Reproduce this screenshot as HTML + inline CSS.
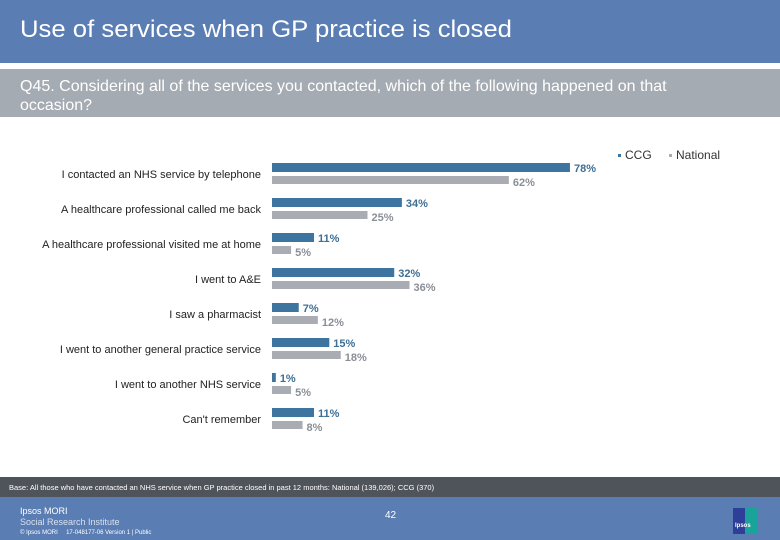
<!DOCTYPE html>
<html><head><meta charset="utf-8"><style>
body{margin:0;width:780px;height:540px;position:relative;background:#fff;font-family:"Liberation Sans",sans-serif;overflow:hidden}
.abs{position:absolute}
</style></head><body>
<div class="abs" style="left:0;top:0;width:780px;height:63px;background:#5a7db4"></div>
<div class="abs" style="left:20px;top:16px;font-size:24px;color:#fff;transform:scaleX(1.07);transform-origin:left;white-space:nowrap">Use of services when GP practice is closed</div>
<div class="abs" style="left:0;top:69px;width:780px;height:48px;background:#a5abb3"></div>
<div class="abs" style="left:20px;top:77px;width:705px;font-size:16px;line-height:19px;color:#fff">Q45. Considering all of the services you contacted, which of the following happened on that occasion?</div>
<div class="abs" style="left:618px;top:148px;font-size:12px;color:#333"><span style="display:inline-block;width:3px;height:3px;background:#3e75a0;vertical-align:middle;margin-right:4px"></span>CCG</div>
<div class="abs" style="left:669px;top:148px;font-size:12px;color:#333"><span style="display:inline-block;width:3px;height:3px;background:#a9adb3;vertical-align:middle;margin-right:4px"></span>National</div>
<svg class="abs" style="left:0;top:0" width="780" height="540" id="chart"></svg>
<div class="abs" style="left:0;top:477px;width:780px;height:20px;background:#4f545b"></div>
<div class="abs" style="left:9px;top:483px;font-size:7.5px;color:#fff">Base: All those who have contacted an NHS service when GP practice closed in past 12 months: National (139,026); CCG (370)</div>
<div class="abs" style="left:0;top:497px;width:780px;height:43px;background:#5a7db4"></div>
<div class="abs" style="left:20px;top:506px;font-size:9px;color:#fff;line-height:11px">Ipsos MORI<br><span style="color:#d8e0ee">Social Research Institute</span></div>
<div class="abs" style="left:20px;top:530px;font-size:6px;color:#fff">© Ipsos MORI &nbsp;&nbsp;&nbsp; 17-048177-06 Version 1 | Public</div>
<div class="abs" style="left:385px;top:510px;font-size:10px;color:#fff">42</div>
<div class="abs" style="left:733px;top:508px;width:24px;height:26px;background:linear-gradient(90deg,#2e3f9a 50%,#1aa39a 50%)"><div style="position:absolute;left:2px;top:15px;font-size:6px;color:#fff;font-weight:bold">Ipsos</div></div>
<script>
const categories=["I contacted an NHS service by telephone","A healthcare professional called me back","A healthcare professional visited me at home","I went to A&E","I saw a pharmacist","I went to another general practice service","I went to another NHS service","Can't remember"];
const ccgValues=[78,34,11,32,7,15,1,11];
const nationalValues=[62,25,5,36,12,18,5,8];
const svg=document.getElementById('chart');
const NS='http://www.w3.org/2000/svg';
const x0=272,scale=3.82;
function xs(v){return v*scale;}
function rowY(i){return 163+i*35;}
function mk(tag,attrs){const e=document.createElementNS(NS,tag);for(const k in attrs)e.setAttribute(k,attrs[k]);svg.appendChild(e);return e;}
categories.forEach((c,i)=>{
  const y=rowY(i);
  const t=mk('text',{x:261,y:y+15,'text-anchor':'end','font-size':11,fill:'#222','font-family':'Liberation Sans, sans-serif'});
  t.textContent=c;
  
  
  const b1=mk('rect',{x:x0,y:y,width:Math.max(xs(ccgValues[i]),1.5),height:9,fill:'#3e75a0'});
  
  
  const b2=mk('rect',{x:x0,y:y+13,width:xs(nationalValues[i]),height:8,fill:'#a9adb3'});
  
  
  const l1=mk('text',{x:x0+xs(ccgValues[i])+4,y:y+9,'font-size':11,'font-weight':'bold',fill:'#3e6f95','font-family':'Liberation Sans, sans-serif'});
  l1.textContent=ccgValues[i]+'%';
  
  
  const l2=mk('text',{x:x0+xs(nationalValues[i])+4,y:y+23,'font-size':11,'font-weight':'bold',fill:'#8a8f96','font-family':'Liberation Sans, sans-serif'});
  l2.textContent=nationalValues[i]+'%';
  
  
});
</script>
</body></html>
